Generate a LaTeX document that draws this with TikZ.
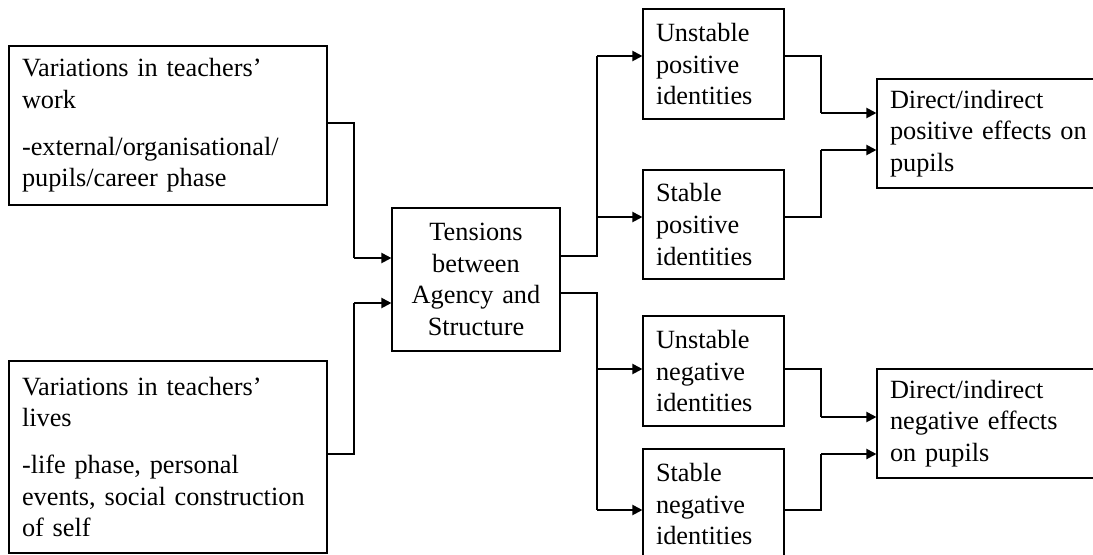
\documentclass[tikz,border=0pt]{standalone}
\usepackage{fontspec}
\setmainfont{Liberation Serif}
\usetikzlibrary{arrows.meta}
\tikzset{
  box/.style={draw, line width=0.55pt, inner ysep=0pt, inner xsep=6.5pt,
    font=\fontsize{13.15pt}{15.85pt}\selectfont, align=left},
  conn/.style={line width=0.55pt},
  arr/.style={line width=1pt, -{Triangle[length=5pt,width=5pt]}}
}
\begin{document}
\begin{tikzpicture}[x=0.5pt,y=-0.5pt]
\useasboundingbox (0,0) rectangle (1093,554);
\clip (0,0) rectangle (1093,554);
% boxes
\node[box, minimum width=159pt, text width=146pt, minimum height=79.5pt] (A) at (168,125.5)
  {Variations in teachers’\\ work\\[7.5pt] -external/organisational/\\ pupils/career phase};
\node[box, minimum width=159pt, text width=146pt, minimum height=96pt] (B) at (168,457)
  {Variations in teachers’\\ lives\\[7.5pt] -life phase, personal\\ events, social construction\\ of self};
\node[box, align=center, minimum width=84pt, text width=71pt, minimum height=71.5pt] (T) at (476,279.5)
  {Tensions\\ between\\ Agency and\\ Structure};
\node[box, minimum width=70.5pt, text width=57.5pt, minimum height=55pt] (UP) at (713.5,64)
  {Unstable\\ positive\\ identities};
\node[box, minimum width=70.5pt, text width=57.5pt, minimum height=54.5pt] (SP) at (713.5,224.5)
  {Stable\\ positive\\ identities};
\node[box, minimum width=70.5pt, text width=57.5pt, minimum height=55pt] (UN) at (713.5,371)
  {Unstable\\ negative\\ identities};
\node[box, minimum width=70.5pt, text width=57.5pt, minimum height=55pt] (SN) at (713.5,504)
  {Stable\\ negative\\ identities};
\node[box, minimum width=115pt, text width=102pt, minimum height=54.5pt] (DP) at (992,133.5)
  {Direct/indirect\\ positive effects on\\ pupils};
\node[box, minimum width=115pt, text width=102pt, minimum height=54.5pt] (DN) at (992,423.5)
  {Direct/indirect\\ negative effects\\ on pupils};
% junctions
\coordinate (jA) at (354,258);
\coordinate (jB) at (354,303);
\coordinate (jUP) at (597,56);
\coordinate (jSP) at (597,217);
\coordinate (jUN) at (597,369);
\coordinate (jSN) at (597,510);
\coordinate (jDP1) at (821,113);
\coordinate (jDP2) at (821,150);
\coordinate (jDN1) at (821,417);
\coordinate (jDN2) at (821,454);
% left inputs
\draw[conn] ([yshift=1.25pt]A.east) -| (jA);
\draw[arr] (jA) -- (T.west |- jA);
\draw[conn] ([yshift=1.5pt]B.east) -| (jB);
\draw[arr] (jB) -- (T.west |- jB);
% tensions outputs
\draw[conn] ([yshift=11.75pt]T.east) -| (jUP);
\draw[arr] (jUP) -- (UP.west |- jUP);
\draw[arr] (jSP) -- (SP.west |- jSP);
\draw[conn] ([yshift=-6.75pt]T.east) -| (jSN);
\draw[arr] (jUN) -- (UN.west |- jUN);
\draw[arr] (jSN) -- (SN.west |- jSN);
% identity outputs
\draw[conn] ([yshift=4pt]UP.east) -| (jDP1);
\draw[arr] (jDP1) -- (DP.west |- jDP1);
\draw[conn] ([yshift=3.75pt]SP.east) -| (jDP2);
\draw[arr] (jDP2) -- (DP.west |- jDP2);
\draw[conn] ([yshift=1pt]UN.east) -| (jDN1);
\draw[arr] (jDN1) -- (DN.west |- jDN1);
\draw[conn] ([yshift=-3pt]SN.east) -| (jDN2);
\draw[arr] (jDN2) -- (DN.west |- jDN2);
\end{tikzpicture}
\end{document}
